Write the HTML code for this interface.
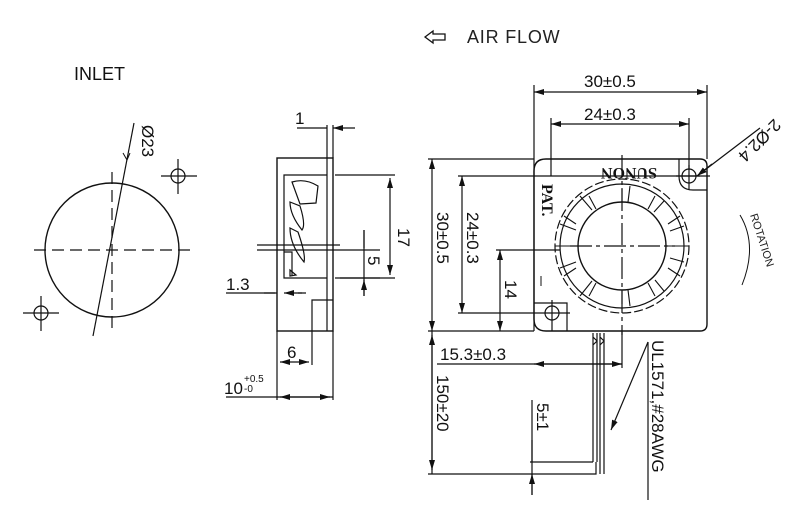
<!DOCTYPE html>
<html><head><style>body{margin:0;background:#fff}svg{display:block}</style></head><body>
<svg width="800" height="516" viewBox="0 0 800 516" xmlns="http://www.w3.org/2000/svg" font-family="Liberation Sans, sans-serif" fill="none" stroke="#111" stroke-width="1.2">
<defs><marker id="a" viewBox="0 0 10 6" refX="10" refY="3" markerWidth="10" markerHeight="6" orient="auto-start-reverse" markerUnits="userSpaceOnUse"><path d="M0,0L10,3L0,6z" fill="#111" stroke="none"/></marker></defs>
<path d="M425,37 L433,31 V34 H445 V40 H433 V43 Z" stroke-width="1.3"/>
<text x="467" y="43" font-size="18" fill="#222" stroke="none" letter-spacing="0.8">AIR FLOW</text>
<text x="74" y="80" font-size="18" fill="#111" stroke="none">INLET</text>
<circle cx="112" cy="250" r="67" stroke-width="1.4"/>
<path d="M34,250H190M112,172V328" stroke-dasharray="12,6"/>
<path d="M134,123L93,336"/>
<path d="M127,160l-4,-7 m4,7 l3,-7" stroke-width="1"/>
<text transform="translate(142,125) rotate(90)" font-size="17" fill="#111" stroke="none">Ø23</text>
<circle cx="178" cy="176" r="7"/><path d="M161,176H197M178,159V194"/>
<circle cx="41" cy="313" r="7"/><path d="M23,313H59M41,296V331"/>
<rect x="277" y="158" width="56" height="173" stroke-width="1.4"/>
<path d="M284,175H327V278H284ZM327,125V331M333,125V158M312,331V300H333"/>
<path d="M292,182 Q305,178 318,186 L316,203 L300,204 Z M290,202 L300,206 Q306,225 302,230 Q290,215 290,202 Z M290,228 L298,232 Q306,255 304,262 Q290,245 290,228 Z M290,270 L296,275 L290,276Z" stroke-width="1.2"/>
<path d="M257,245H340M257,250H340M284,252H292V275"/>
<path d="M297,128H315M345,128H355M315,128H327M345,128H333" marker-end="url(#a)"/>
<text x="295" y="124" font-size="17" fill="#111" stroke="none">1</text>
<path d="M335,175H395M335,278H395"/>
<path d="M390,178V275" marker-start="url(#a)" marker-end="url(#a)"/>
<text transform="translate(398,228) rotate(90)" font-size="17" fill="#111" stroke="none">17</text>
<path d="M340,250H380M340,278H380M364,230V248M364,296V280" marker-end="url(#a)"/>
<path d="M364,230V296"/>
<text transform="translate(368,256) rotate(90)" font-size="17" fill="#111" stroke="none">5</text>
<path d="M226,293H275M306,293H298" /><path d="M264,293H277M302,293H284" marker-end="url(#a)"/>
<text x="226" y="290" font-size="17" fill="#111" stroke="none">1.3</text>
<path d="M277,331V400M312,331V365M333,331V400"/>
<path d="M280,362H309" marker-start="url(#a)" marker-end="url(#a)"/>
<text x="287" y="358" font-size="17" fill="#111" stroke="none">6</text>
<path d="M226,397H333"/><path d="M280,397H330" marker-start="url(#a)" marker-end="url(#a)"/>
<text x="224" y="394" font-size="17" fill="#111" stroke="none">10</text>
<text x="244" y="382" font-size="10" fill="#111" stroke="none">+0.5</text>
<text x="244" y="392" font-size="10" fill="#111" stroke="none">-0</text>
<path d="M546,159H700Q707,159 707,166V324Q707,331 700,331H546Q534,331 534,319V171Q534,159 546,159Z" stroke-width="1.4"/>
<path d="M679,159V176Q679,190 693,190H707"/>
<circle cx="689" cy="176" r="7"/><path d="M676,176H710M689,165V190"/>
<path d="M534,303H567V331"/>
<circle cx="552" cy="313" r="7"/><path d="M540,313H570M552,300V331"/>
<circle cx="622" cy="246" r="67" stroke-dasharray="9,3"/>
<circle cx="622" cy="246" r="62"/>
<circle cx="622" cy="246" r="44" stroke-width="1.4"/>
<g stroke-width="1.1">
<path d="M622,188V202M655,196L648,209M680,216L668,224M689,246H667M680,276L668,268M655,296L648,283M622,304V290M589,296L596,283M564,276L576,268M555,246H578M564,216L576,224M589,196L596,209"/>
<path d="M630,186L628,202M664,201L654,212M684,226L670,231M684,262L670,258M664,291L655,280M630,306L628,290M580,296L592,281M560,268L576,262M560,224L576,230M580,196L592,210"/>
</g>
<path d="M570,246H675M622,155V335" stroke-dasharray="22,4,4,4"/>
<text transform="translate(622,168) rotate(180)" x="-35" font-size="16" font-family="Liberation Serif,serif" font-weight="bold" fill="#111" stroke="none">SUNON</text>
<text transform="translate(542,184) rotate(90)" font-size="16" font-family="Liberation Serif,serif" font-weight="bold" fill="#111" stroke="none">PAT.</text>
<path d="M541,276v10" stroke-width="1"/>
<path d="M534,331V85M707,159V85M551,176V118M689,170V118"/>
<path d="M534,92H707" marker-start="url(#a)" marker-end="url(#a)"/>
<text x="584" y="87" font-size="17" fill="#111" stroke="none">30±0.5</text>
<path d="M551,124H689" marker-start="url(#a)" marker-end="url(#a)"/>
<text x="584" y="120" font-size="17" fill="#111" stroke="none">24±0.3</text>
<path d="M428,159H534M458,176H700M496,250H560M428,331H534"/>
<path d="M432,159V331" marker-start="url(#a)" marker-end="url(#a)"/>
<path d="M462,176V313" marker-start="url(#a)" marker-end="url(#a)"/>
<path d="M458,313H540"/>
<path d="M500,250V331" marker-start="url(#a)" marker-end="url(#a)"/>
<text transform="translate(437,212) rotate(90)" font-size="17" fill="#111" stroke="none">30±0.5</text>
<text transform="translate(467,212) rotate(90)" font-size="17" fill="#111" stroke="none">24±0.3</text>
<text transform="translate(505,280) rotate(90)" font-size="17" fill="#111" stroke="none">14</text>
<path d="M697,176L760,128" />
<path d="M697,176L712,164" marker-start="url(#a)"/>
<text transform="translate(774,118) rotate(135)" font-size="17" fill="#111" stroke="none">2-Ø2.4</text>
<path d="M740,215Q758,245 742,285" stroke-width="1"/>
<text transform="translate(750,215) rotate(72)" font-size="11" fill="#222" stroke="none">ROTATION</text>
<path d="M593,333V462M597,333V462M600,333V474M604,333V474M593,337l4,4l-4,4M600,337l4,4l-4,4"/>
<path d="M437,364H622M622,331V368"/>
<path d="M534,364H622" marker-start="url(#a)" marker-end="url(#a)"/>
<text x="440" y="360" font-size="17" fill="#111" stroke="none">15.3±0.3</text>
<path d="M428,474H596V462M432,331V474" />
<path d="M432,335V470" marker-start="url(#a)" marker-end="url(#a)"/>
<text transform="translate(437,375) rotate(90)" font-size="17" fill="#111" stroke="none">150±20</text>
<path d="M530,462H593M532,400V495"/>
<path d="M532,440V462M532,495V474" marker-end="url(#a)"/>
<text transform="translate(537,403) rotate(90)" font-size="17" fill="#111" stroke="none">5±1</text>
<path d="M648,342L611,430" marker-end="url(#a)"/>
<path d="M648,342V500"/>
<text transform="translate(652,340) rotate(90)" font-size="17" fill="#111" stroke="none">UL1571,#28AWG</text>
</svg>
</body></html>
